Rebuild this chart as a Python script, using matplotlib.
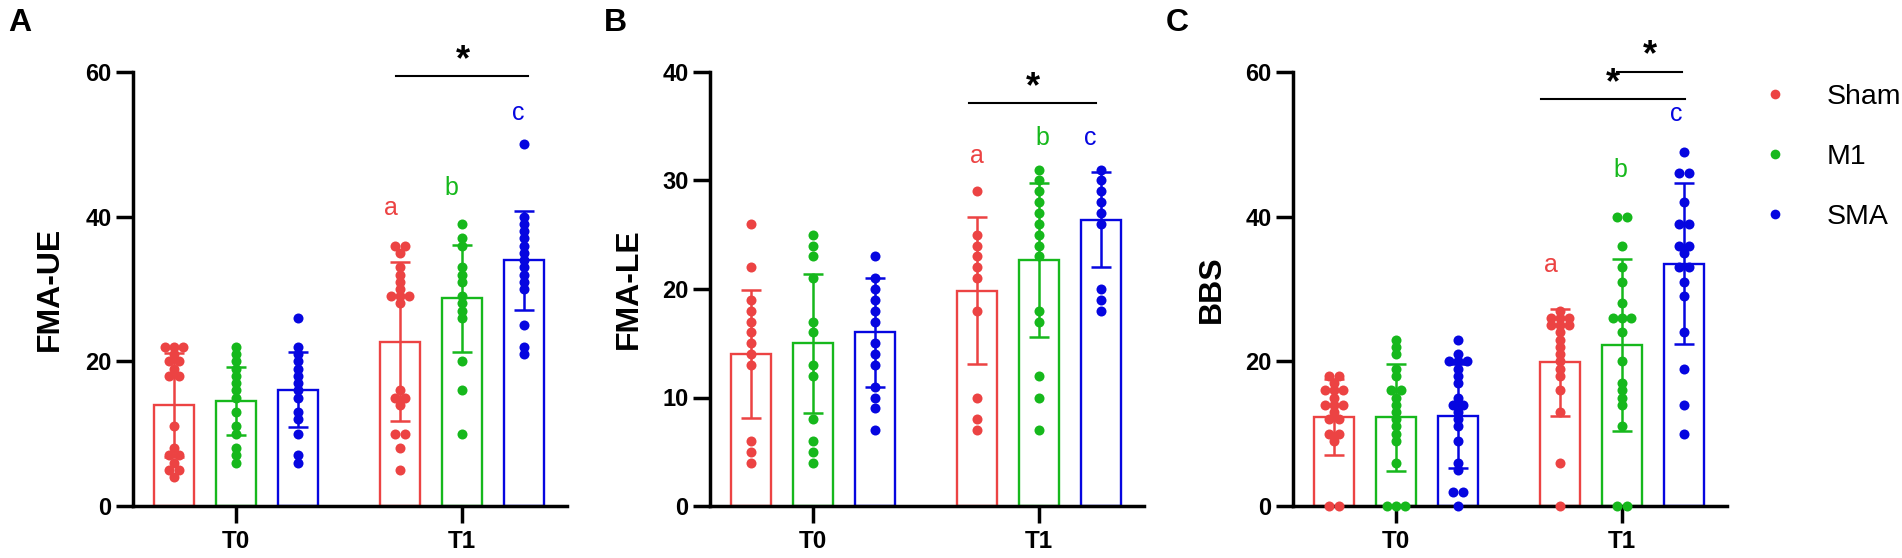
import numpy as np
import matplotlib
matplotlib.use("Agg")
import matplotlib.pyplot as plt
from matplotlib.lines import Line2D

# ---------------- data ----------------
groups = ["Sham", "M1", "SMA"]
timepoints = ["T0", "T1"]
panel_letters = ["A", "B", "C"]
measures = ["FMA-UE", "FMA-LE", "BBS"]
y_max = [60, 40, 60]
y_ticks = [[0, 20, 40, 60], [0, 10, 20, 30, 40], [0, 20, 40, 60]]

# means [T0: Sham, M1, SMA], [T1: Sham, M1, SMA]
fma_ue_mean = [[14.0, 14.5, 16.1], [22.7, 28.7, 34.0]]
fma_ue_sd = [[7.2, 4.7, 5.2], [11.0, 7.4, 6.85]]
fma_le_mean = [[14.0, 15.0, 16.0], [19.85, 22.7, 26.4]]
fma_le_sd = [[5.9, 6.4, 5.0], [6.8, 7.1, 4.35]]
bbs_mean = [[12.3, 12.3, 12.5], [19.9, 22.2, 33.5]]
bbs_sd = [[5.3, 7.4, 7.2], [7.4, 11.9, 11.1]]

# individual scores
fma_ue_pts = [
    [[22, 22, 22, 21, 20, 20, 19, 18, 18, 11, 8, 7, 7, 6, 5, 5, 4],
     [22, 21, 20, 19, 18, 17, 16, 15, 13, 11, 10, 8, 7, 6],
     [26, 22, 21, 20, 19, 18, 17, 16, 15, 13, 12, 10, 7, 6]],
    [[36, 36, 35, 33, 32, 31, 30, 29, 29, 29, 28, 16, 15, 15, 14, 10, 10, 8, 5],
     [39, 37, 36, 33, 32, 31, 29, 28, 27, 26, 20, 16, 10],
     [50, 40, 39, 38, 37, 36, 35, 34, 33, 32, 31, 30, 25, 22, 21]],
]
fma_le_pts = [
    [[26, 22, 19, 18, 17, 16, 15, 14, 13, 6, 5, 4],
     [25, 24, 23, 21, 17, 16, 13, 12, 8, 6, 5, 4],
     [23, 21, 20, 19, 18, 17, 15, 14, 13, 11, 10, 9, 7]],
    [[29, 25, 24, 23, 22, 21, 18, 10, 8, 7],
     [31, 30, 29, 28, 27, 26, 25, 24, 23, 18, 17, 12, 10, 7],
     [31, 30, 29, 28, 27, 26, 20, 19, 18]],
]
bbs_pts = [
    [[18, 18, 17, 16, 16, 16, 15, 14, 14, 14, 13, 12, 12, 10, 10, 9, 0, 0],
     [23, 22, 21, 19, 18, 16, 16, 15, 14, 13, 12, 11, 10, 9, 6, 0, 0, 0],
     [23, 21, 20, 20, 20, 19, 18, 17, 15, 14, 14, 13, 12, 11, 9, 6, 5, 2, 2, 0]],
    [[27, 26, 26, 26, 25, 25, 25, 24, 23, 22, 21, 20, 19, 18, 16, 13, 6, 0],
     [40, 40, 36, 33, 31, 28, 26, 26, 26, 24, 20, 17, 16, 15, 14, 11, 0, 0],
     [49, 46, 46, 42, 39, 39, 36, 36, 35, 33, 33, 31, 29, 24, 19, 14, 10]],
]

letters = ["a", "b", "c"]

# ---------------- style / layout ----------------
colors = ["#EC4343", "#16B81C", "#0606E0"]
plt.rcParams["font.family"] = ["Liberation Sans", "DejaVu Sans"]

W, H = 1902, 558
fig = plt.figure(figsize=(W / 100, H / 100), dpi=100)

axes_left_px = [133, 710, 1293]
ax_w_px, ax_top_px, ax_bot_px = 434, 72, 506

group_gap = 3.645   # T1 centre relative to T0 centre (bar pitch = 1)
bar_w = 0.645
xlim = (-1.66, 5.34)
dot_step = 0.15

# letter label positions (x offset from bar centre, y in data units)
letter_pos = [
    [(-0.15, 41.2), (-0.17, 44.0), (-0.09, 54.4)],
    [(0.0, 32.3), (0.05, 33.9), (-0.17, 33.9)],
    [(-0.15, 33.3), (-0.03, 46.4), (-0.12, 54.2)],
]
# significance brackets: (x0, x1, y_line), stars: (x, y)
sig_lines = [
    [(2.58, 4.71, 59.4)],
    [(2.52, 4.56, 37.1)],
    [(2.34, 4.66, 56.2), (3.56, 4.61, 60.0)],
]
sig_stars = [
    [(3.66, 61.6)],
    [(3.55, 38.6)],
    [(3.50, 58.4), (4.10, 62.3)],
]
ylabel_x_px = [50, 629, 1212]
letter_x_px = [8, 604, 1166]

means_all = [fma_ue_mean, fma_le_mean, bbs_mean]
sds_all = [fma_ue_sd, fma_le_sd, bbs_sd]
pts_all = [fma_ue_pts, fma_le_pts, bbs_pts]


def swarm(vals, step):
    vals = np.asarray(vals, dtype=float)
    offs = np.zeros_like(vals)
    for v in np.unique(vals):
        idx = np.where(vals == v)[0]
        n = len(idx)
        offs[idx] = (np.arange(n) - (n - 1) / 2) * step
    return offs


for p in range(3):
    left = axes_left_px[p] / W
    ax = fig.add_axes([left, (H - ax_bot_px) / H, ax_w_px / W,
                       (ax_bot_px - ax_top_px) / H])
    for t in range(2):
        centre = t * group_gap
        for g in range(3):
            x = centre + (g - 1)
            m = means_all[p][t][g]
            sd = sds_all[p][t][g]
            ax.bar(x, m, width=bar_w, facecolor="white",
                   edgecolor=colors[g], linewidth=1.7, zorder=1)
            ax.errorbar(x, m, yerr=sd, fmt="none", ecolor=colors[g],
                        elinewidth=1.8, capsize=7, capthick=1.8, zorder=2)
            vals = pts_all[p][t][g]
            xs = x + swarm(vals, dot_step)
            ax.scatter(xs, vals, s=52, color=colors[g], linewidths=0,
                       zorder=3, clip_on=False)
            if t == 1:
                dx, ly = letter_pos[p][g]
                ax.text(x + dx, ly, letters[g], color=colors[g],
                        fontsize=18, ha="center", va="center")
    for (x0, x1, yl) in sig_lines[p]:
        ax.plot([x0, x1], [yl, yl], color="black", lw=1.5,
                clip_on=False, zorder=4)
    for (xs_, ys_) in sig_stars[p]:
        ax.text(xs_, ys_, "*", fontsize=26, fontweight="bold",
                ha="center", va="center", clip_on=False)

    ax.set_xlim(*xlim)
    ax.set_ylim(0, y_max[p])
    ax.set_yticks(y_ticks[p])
    ax.set_xticks([0, group_gap])
    ax.set_xticklabels(timepoints)
    for s in ["top", "right"]:
        ax.spines[s].set_visible(False)
    for s in ["left", "bottom"]:
        ax.spines[s].set_linewidth(2.5)
    ax.tick_params(axis="both", width=2.5, length=12.5, direction="out")
    ax.tick_params(axis="y", pad=3.0, labelsize=17)
    ax.tick_params(axis="x", pad=5, labelsize=17.5)
    for lab in ax.get_xticklabels() + ax.get_yticklabels():
        lab.set_fontweight("bold")
    ax.text((ylabel_x_px[p] - axes_left_px[p]) / ax_w_px, 0.5, measures[p],
            transform=ax.transAxes, rotation=90, ha="center", va="center",
            fontsize=23, fontweight="bold")
    fig.text(letter_x_px[p] / W, 1 - 8 / H, panel_letters[p],
             fontsize=23, fontweight="bold", ha="left", va="top")

handles = [Line2D([], [], linestyle="none", marker="o", markersize=7.0,
                  markeredgewidth=0, color=c) for c in colors]
fig.legend(handles, groups, loc="upper left",
           bbox_to_anchor=(1761 / W, 1 - 84 / H), frameon=False,
           fontsize=20.5, handlelength=1.0, handletextpad=1.3,
           labelspacing=1.2, borderpad=0, borderaxespad=0)

fig.savefig("out.png", dpi=100)
